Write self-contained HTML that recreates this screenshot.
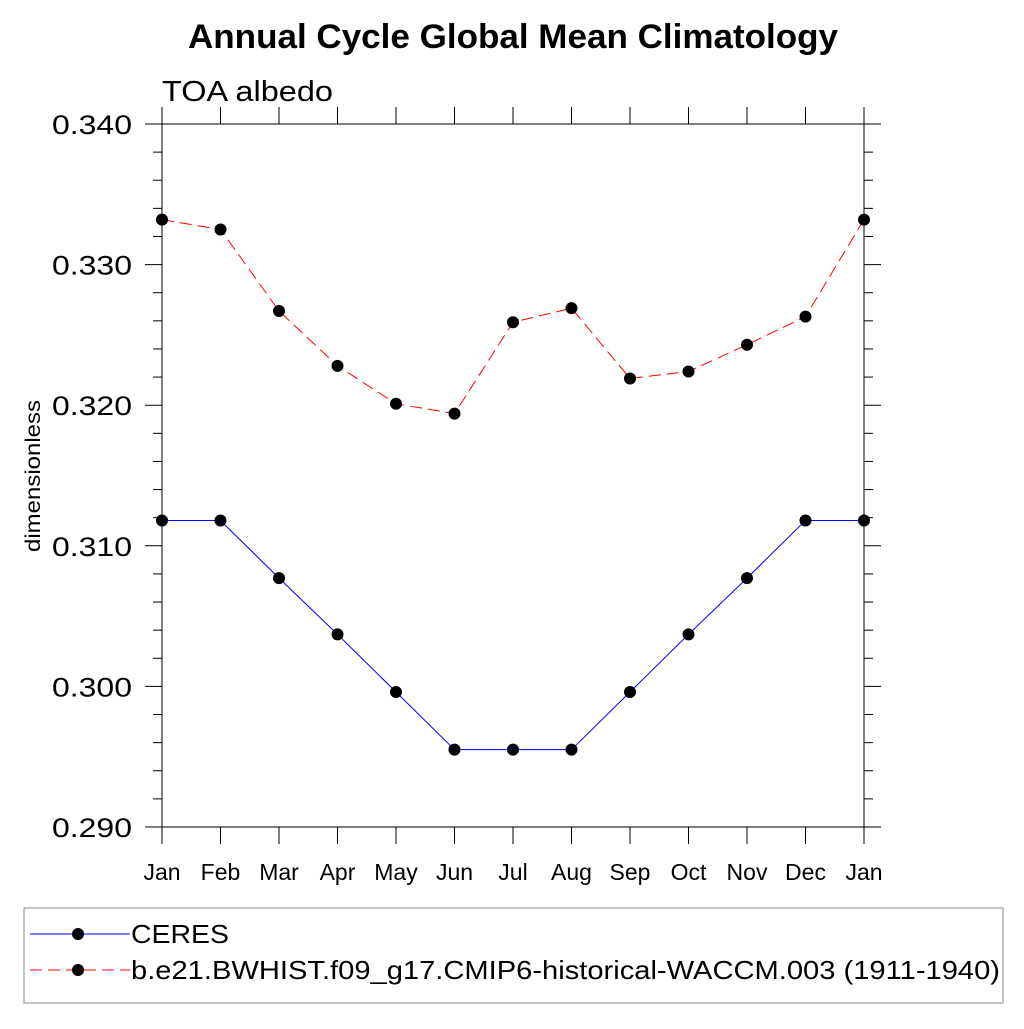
<!DOCTYPE html>
<html><head><meta charset="utf-8"><style>
body{margin:0;background:#fff}
svg text{font-family:"Liberation Sans",sans-serif}
</style></head><body>
<svg width="1024" height="1024" viewBox="0 0 1024 1024">
<text x="188" y="48" font-size="34" font-weight="bold" textLength="650" lengthAdjust="spacingAndGlyphs">Annual Cycle Global Mean Climatology</text>
<text x="162" y="101" font-size="29" textLength="171" lengthAdjust="spacingAndGlyphs">TOA albedo</text>
<text transform="translate(40,476) rotate(-90)" font-size="21" text-anchor="middle" textLength="152" lengthAdjust="spacingAndGlyphs">dimensionless</text>
<g id="axes"></g>
<g id="series"></g>
<rect x="24" y="908" width="979" height="95" fill="none" stroke="#888" stroke-width="1"/>
<line x1="30" y1="934" x2="130" y2="934" stroke="#00f" stroke-width="1"/>
<circle cx="78" cy="934" r="6" fill="#000"/>
<text x="131" y="943" font-size="26" textLength="98" lengthAdjust="spacingAndGlyphs">CERES</text>
<line x1="30" y1="970" x2="130" y2="970" stroke="#f00" stroke-width="1" stroke-dasharray="12,6"/>
<circle cx="78" cy="970" r="6" fill="#000"/>
<text x="131" y="979" font-size="26" textLength="869" lengthAdjust="spacingAndGlyphs">b.e21.BWHIST.f09_g17.CMIP6-historical-WACCM.003 (1911-1940)</text>
</svg>
<script>
const months=["Jan","Feb","Mar","Apr","May","Jun","Jul","Aug","Sep","Oct","Nov","Dec","Jan"];
const ceres=[0.3118,0.3118,0.3077,0.3037,0.2996,0.2955,0.2955,0.2955,0.2996,0.3037,0.3077,0.3118,0.3118];
const model=[0.3332,0.3325,0.3267,0.3228,0.3201,0.3194,0.3259,0.3269,0.3219,0.3224,0.3243,0.3263,0.3332];
const yTicks=[0.290,0.300,0.310,0.320,0.330,0.340];
const yTickLabels=["0.290","0.300","0.310","0.320","0.330","0.340"];
const X0=162,X1=864,Y0=827,Y1=124,YMIN=0.29,YMAX=0.34;
const xs=i=>X0+i*(X1-X0)/(months.length-1);
const ys=v=>Y0-(v-YMIN)/(YMAX-YMIN)*(Y0-Y1);
const NS="http://www.w3.org/2000/svg";
function mk(tag,attrs,parent){const e=document.createElementNS(NS,tag);for(const k in attrs)e.setAttribute(k,attrs[k]);parent.appendChild(e);return e;}
const ax=document.getElementById('axes');
let f=mk('rect',{x:X0,y:Y1,width:X1-X0,height:Y0-Y1,fill:'none',stroke:'#000','stroke-width':1},ax);


for(let v=0;v<=25;v++){const y=ys(YMIN+v*0.002);const major=v%5===0;const L=major?17:9;
 mk('line',{x1:X0-L,y1:y,x2:X0,y2:y,stroke:'#000'},ax);
 mk('line',{x1:X1,y1:y,x2:X1+L,y2:y,stroke:'#000'},ax);}
yTicks.forEach((v,i)=>{const t=mk('text',{x:52,y:ys(v)+10,'font-size':27,textLength:80,lengthAdjust:'spacingAndGlyphs'},ax);t.textContent=yTickLabels[i];
 
 });
months.forEach((m,i)=>{const x=xs(i);
 mk('line',{x1:x,y1:Y1-17,x2:x,y2:Y1,stroke:'#000'},ax);
 mk('line',{x1:x,y1:Y0,x2:x,y2:Y0+17,stroke:'#000'},ax);
 const t=mk('text',{x:x,y:880,'font-size':23,'text-anchor':'middle'},ax);t.textContent=m;
 
 });
const sg=document.getElementById('series');
function series(data,color,dash,name){
 const p=mk('polyline',{points:data.map((v,i)=>xs(i)+','+ys(v)).join(' '),fill:'none',stroke:color,'stroke-width':1,'stroke-dasharray':dash},sg);
 
 
 data.forEach((v,i)=>{const c=mk('circle',{cx:xs(i),cy:ys(v),r:6,fill:'#000'},sg);
  
  });
}
series(ceres,'#00f','none','ceres');
series(model,'#f00','12,6','model');
</script>
</body></html>
